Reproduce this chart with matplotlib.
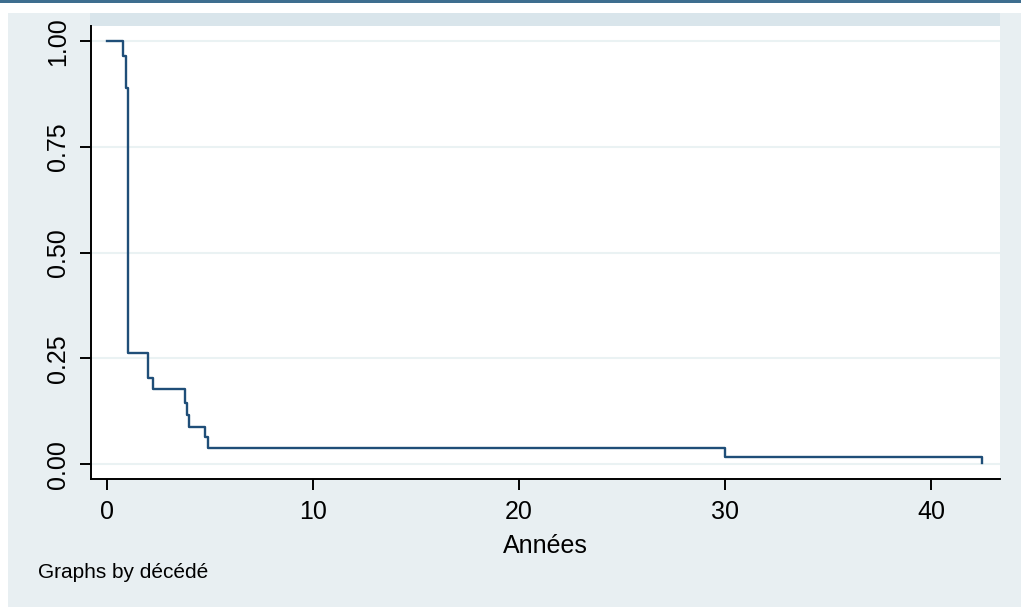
import matplotlib
matplotlib.use("Agg")
import matplotlib.pyplot as plt
from matplotlib.patches import Rectangle

# Kaplan-Meier estimate
temps = [0.0, 0.76, 0.92, 1.04, 2.0, 2.25, 3.79, 3.87, 3.98, 4.75, 4.92, 30.0, 42.5]
survie = [1.0, 0.964, 0.890, 0.263, 0.203, 0.177, 0.144, 0.116, 0.088, 0.065, 0.039, 0.017, 0.004]
yticks = [0.0, 0.25, 0.5, 0.75, 1.0]
ylabels = ["0.00", "0.25", "0.50", "0.75", "1.00"]
xticks = [0, 10, 20, 30, 40]

plt.rcParams['font.family'] = ['Liberation Sans', 'DejaVu Sans']

W, H = 1021, 607
fig = plt.figure(figsize=(W / 100, H / 100), dpi=100, facecolor="white")

# outer graph region (stata style)
fig.patches.append(Rectangle((8 / W, 0), 1, 1 - 13 / H, transform=fig.transFigure,
                             facecolor="#e8eff2", edgecolor="none", zorder=-3))
fig.patches.append(Rectangle((0, 1 - 3 / H), 1, 3 / H, transform=fig.transFigure,
                             facecolor="#3e6e8f", edgecolor="none", zorder=-3))
# empty strip of the by() subgraph
fig.patches.append(Rectangle((90 / W, 1 - 26 / H), 910 / W, 13 / H, transform=fig.transFigure,
                             facecolor="#d9e5eb", edgecolor="none", zorder=-2))

ax = fig.add_axes([91 / W, (H - 479) / H, 909 / W, 453 / H])
ax.set_facecolor("white")
ax.step(temps, survie, where="post", color="#1f4e78", lw=1.7, zorder=3)

ax.set_xlim(-0.777, 43.35)
ax.set_ylim(-0.035, 1.036)
ax.set_xticks(xticks)
ax.set_yticks(yticks)
ax.set_yticklabels(ylabels, rotation=90, va="center")
ax.grid(axis="y", color="#eaf2f3", lw=1.5)
ax.set_axisbelow(True)

for s in ["top", "right"]:
    ax.spines[s].set_visible(False)
for s in ["left", "bottom"]:
    ax.spines[s].set_linewidth(1.4)
    ax.spines[s].set_color("black")
ax.tick_params(length=8, width=1.4, labelsize=18, pad=7, colors="black")

ax.set_xlabel("Années", fontsize=18, labelpad=7)
fig.text(38 / W, 1 - 573 / H, "Graphs by décédé", fontsize=15, va="center", ha="left")

fig.savefig("out.png", dpi=100, facecolor=fig.get_facecolor())
